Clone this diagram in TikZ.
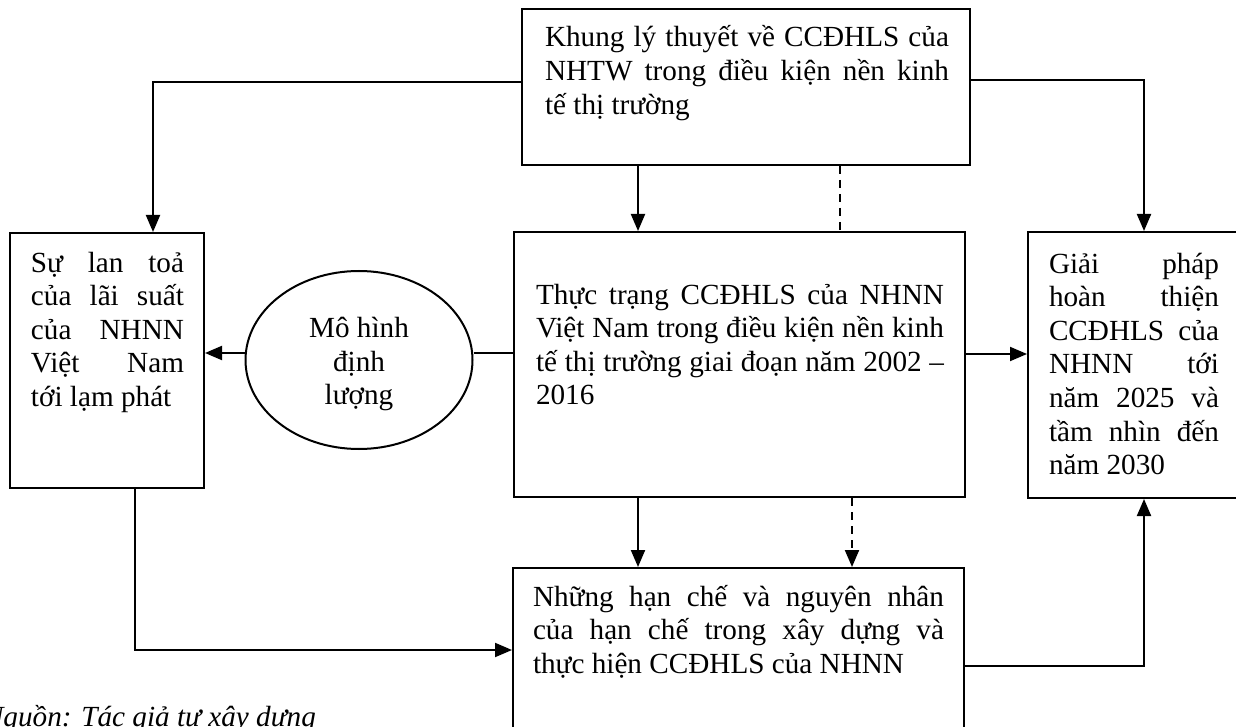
\documentclass[tikz,border=0pt]{standalone}
\usepackage{fontspec}
\setmainfont{Liberation Serif}
\usetikzlibrary{shapes.geometric,arrows.meta}
\begin{document}
\begin{tikzpicture}[x=0.5pt,y=-0.5pt, line width=1pt,
  box/.style={draw, rectangle, inner sep=0pt, anchor=north west},
  txt/.style={inner sep=0pt, anchor=north west, align=justify, font=\fontsize{14.6pt}{16.8pt}\selectfont},
  ellbox/.style={draw, ellipse, inner sep=0pt, minimum width=113.5pt, minimum height=89pt},
  ctxt/.style={inner sep=0pt, align=center, font=\fontsize{14.6pt}{16.8pt}\selectfont},
  arr/.style={-{Triangle[length=8.5pt,width=7pt]}},
  dsh/.style={dash pattern=on 4pt off 3pt}]
\useasboundingbox (0,0) rectangle (1236,727);
\clip (0,0) rectangle (1236,727);
% boxes
\node[box, minimum width=224pt, minimum height=78pt] (top) at (521,8) {};
\node[box, minimum width=225.5pt, minimum height=132.5pt] (mid) at (513,231) {};
\node[box, minimum width=97pt, minimum height=127.5pt] (left) at (9,232) {};
\node[box, minimum width=130pt, minimum height=133pt] (right) at (1027,231) {};
\node[box, minimum width=225.5pt, minimum height=100pt] (bot) at (512,567) {};
\node[ellbox] (ell) at (359,360) {};
% texts
\node[ctxt] (tell) at (359,364) {Mô hình\\định\\lượng};
\node[txt, text width=202pt] (ttop) at (544,18) {\rule{0pt}{14pt}Khung lý thuyết về CCĐHLS của\linebreak NHTW trong điều kiện nền kinh\linebreak tế thị trường};
\node[txt, text width=204pt] (tmid) at (535,275) {\rule{0pt}{14pt}Thực trạng CCĐHLS của NHNN\linebreak Việt Nam trong điều kiện nền kinh\linebreak tế thị trường giai đoạn năm 2002 –\linebreak 2016};
\node[txt, text width=76.5pt] (tleft) at (30,243) {\rule{0pt}{14pt}Sự lan toả\linebreak của lãi suất\linebreak của NHNN\linebreak Việt Nam\linebreak tới lạm phát};
\node[txt, text width=85pt] (tright) at (1048,244) {\rule{0pt}{14pt}Giải pháp\linebreak hoàn thiện\linebreak CCĐHLS của\linebreak NHNN tới\linebreak năm 2025 và\linebreak tầm nhìn đến\linebreak năm 2030};
\node[txt, text width=205.5pt] (tbot) at (532,577) {\rule{0pt}{14pt}Những hạn chế và nguyên nhân\linebreak của hạn chế trong xây dựng và\linebreak thực hiện CCĐHLS của NHNN};
\node[inner sep=0pt, anchor=base west, font=\fontsize{14.6pt}{16.8pt}\selectfont\itshape] (src) at (-17,726) {Nguồn: Tác giả tự xây dựng};
% connectors
\draw[arr] (top.west |- 0,82) -| (left.north -| 153,0);
\draw[arr] (top.east |- 0,80) -| (right.north -| 1144,0);
\draw[arr] (top.south -| 638,0) -- (mid.north -| 638,0);
\draw[dsh] (top.south -| 840,0) -- (mid.north -| 840,0);
\draw[arr] (ell.west |- 0,353) -- (left.east |- 0,353);
\draw (mid.west |- 0,353) -- (ell.east |- 0,353);
\draw[arr] (mid.east |- 0,354) -- (right.west |- 0,354);
\draw[arr] (mid.south -| 638,0) -- (bot.north -| 638,0);
\draw[arr,dsh] (mid.south -| 852,0) -- (bot.north -| 852,0);
\draw[arr] (left.south -| 135,0) |- (bot.west |- 0,650);
\draw[arr] (bot.east |- 0,666) -| (right.south -| 1144,0);
\end{tikzpicture}
\end{document}
